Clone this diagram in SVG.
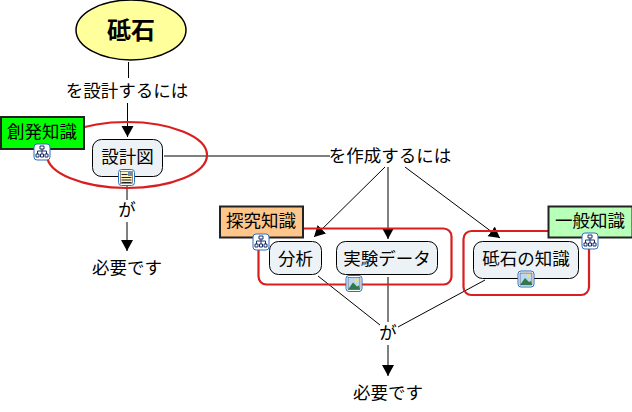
<svg xmlns="http://www.w3.org/2000/svg" width="632" height="412" viewBox="0 0 632 412">
<style>
text{font-family:"Liberation Sans","Noto Sans CJK JP",sans-serif;font-size:17.5px;fill:#000;text-anchor:middle;dominant-baseline:central}
.n{fill:#ecf2f6;stroke:#000;stroke-width:1}
.red{fill:none;stroke:#d81e1e;stroke-width:2.200}
.tag{stroke:#222;stroke-width:2}
.c{stroke:#000;stroke-width:1;fill:none}
.ib{fill:#fff;stroke:#2f6fc0;stroke-width:1}
</style>
<defs>
<marker id="a" markerUnits="userSpaceOnUse" markerWidth="12" markerHeight="13" refX="11" refY="6.500" orient="auto"><path d="M0 0.500L11 6.500L0 12.500z" fill="#000"/></marker>
<g id="tree"><rect class="ib" x="-8" y="-8" width="16" height="16" rx="3"/><path d="M-2 -6h4v3h-4zM-6 2h3v3h-3zM-1.500 2h3v3h-3zM3 2h3v3h-3zM0 -3v5M-4.500 2v-3h9v3" fill="#fff" stroke="#1a2f6a" stroke-width="1"/></g>
<g id="pic"><rect class="ib" x="-8" y="-8" width="16" height="16" rx="3"/><rect x="-6" y="-6" width="12" height="12" fill="#bcd8f0" stroke="#223"  stroke-width=".5"/><circle cx="2.500" cy="-3" r="1.800" fill="#f4e070"/><path d="M-6 6L-1 -1L3 3L5 2L6 6z" fill="#2f7a4a"/></g>
<g id="doc"><rect class="ib" x="-8" y="-8" width="16" height="16" rx="3"/><rect x="-6" y="-6" width="12" height="12" fill="#fff4b8" stroke="#223" stroke-width=".5"/><path d="M-5 -3h6M-5 0h10M-5 2.500h10M-5 5h10" stroke="#222" stroke-width="1"/><rect x="1.500" y="-5.500" width="4" height="4" fill="#6a90b0"/></g>
</defs>
<g id="connectors">
<path class="c" d="M128.500 62V78"/>
<path class="c" marker-end="url(#a)" d="M127.500 103V137"/>
<path class="c" d="M164 156H330"/>
<path class="c" marker-end="url(#a)" d="M385 167L314 237"/>
<path class="c" marker-end="url(#a)" d="M388 167V239"/>
<path class="c" marker-end="url(#a)" d="M405 167L500 238"/>
<path class="c" d="M127 178V200"/>
<path class="c" marker-end="url(#a)" d="M127 222V251"/>
<path class="c" d="M318 276L380 325"/>
<path class="c" d="M388 277V322"/>
<path class="c" d="M485 280L398 327"/>
<path class="c" marker-end="url(#a)" d="M388 345V376"/>
</g>
<g id="root"><ellipse cx="131" cy="30" rx="55" ry="30" fill="#ffff9c" stroke="#000" stroke-width="1.500"/><text x="131" y="30" style="font-size:24px;font-weight:bold">砥石</text></g>
<g id="l1"><text x="127" y="91">を設計するには</text></g>
<g id="l2"><text x="390" y="156">を作成するには</text></g>
<g id="l3"><text x="127" y="210">が</text></g>
<g id="l4"><text x="127" y="268">必要です</text></g>
<g id="l5"><text x="388" y="333">が</text></g>
<g id="l6"><text x="388" y="393">必要です</text></g>
<g id="group1"><ellipse class="red" cx="127" cy="155" rx="80" ry="33"/></g>
<g id="group2"><rect class="red" x="258.500" y="228.500" width="193" height="56" rx="8"/></g>
<g id="group3"><rect class="red" x="463.500" y="231" width="125.500" height="64" rx="8"/></g>
<g id="sekkeizu"><rect class="n" x="92.500" y="139.500" width="70" height="37" rx="9"/><text x="127.500" y="157">設計図</text><use href="#doc" x="126.500" y="177.500"/></g>
<g id="bunseki"><rect class="n" x="269.500" y="241.500" width="52" height="33" rx="9"/><text x="295.500" y="259">分析</text></g>
<g id="jikken"><rect class="n" x="336.500" y="241.500" width="101" height="33" rx="9"/><text x="387" y="259">実験データ</text><use href="#pic" x="354" y="283.500"/></g>
<g id="toishi"><rect class="n" x="473.500" y="241.500" width="105" height="37" rx="9"/><text x="526" y="259">砥石の知識</text><use href="#pic" x="526" y="279"/></g>
<g id="tag1"><rect class="tag" x="1" y="117" width="83" height="32" fill="#00ff00"/><text x="42" y="132">創発知識</text><use href="#tree" x="42" y="152"/></g>
<g id="tag2"><rect class="tag" x="220" y="206.500" width="83" height="31" fill="#ffc68c"/><text x="261" y="221">探究知識</text><use href="#tree" x="261" y="242"/></g>
<g id="tag3"><rect class="tag" x="548.500" y="206.500" width="84" height="31" fill="#b8ffb8"/><text x="590" y="221">一般知識</text><use href="#tree" x="590" y="241"/></g>
</svg>
